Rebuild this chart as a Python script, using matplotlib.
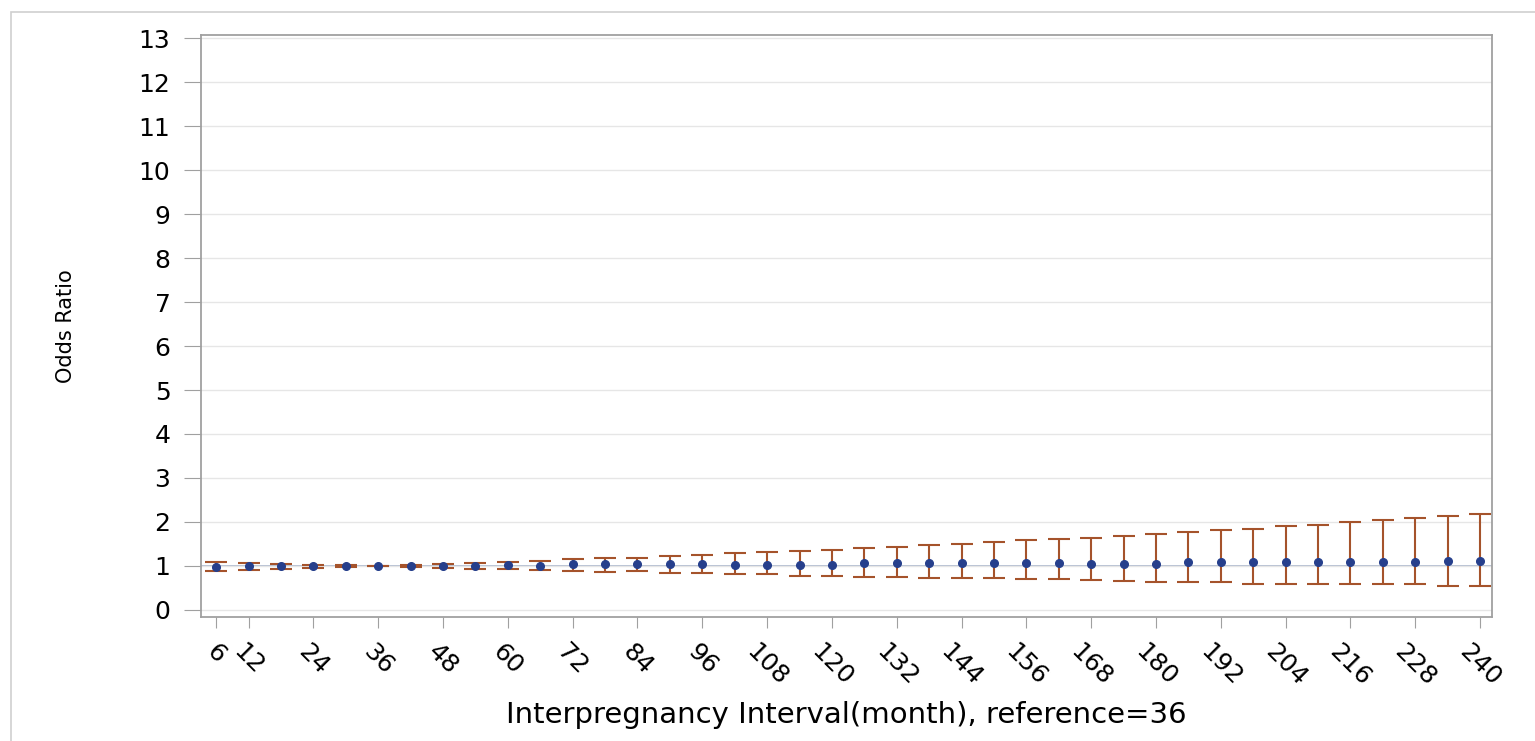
import matplotlib
matplotlib.use("Agg")
import matplotlib.pyplot as plt
from matplotlib.patches import Rectangle

# interval in months (reference = 36)
months = list(range(6, 241, 6))

odds_ratio = [0.97, 0.99, 1.00, 1.00, 1.00, 1.00, 1.00, 1.00, 1.00, 1.02,
              1.00, 1.04, 1.04, 1.04, 1.04, 1.04, 1.02, 1.03, 1.03, 1.03,
              1.06, 1.06, 1.06, 1.06, 1.06, 1.06, 1.06, 1.05, 1.05, 1.05,
              1.08, 1.08, 1.08, 1.08, 1.08, 1.08, 1.08, 1.08, 1.11, 1.11]

ci_upper = [1.08, 1.06, 1.05, 1.03, 1.02, 1.00, 1.03, 1.05, 1.06, 1.08,
            1.11, 1.16, 1.17, 1.19, 1.22, 1.25, 1.29, 1.31, 1.34, 1.37,
            1.40, 1.43, 1.47, 1.50, 1.55, 1.58, 1.61, 1.64, 1.69, 1.72,
            1.78, 1.82, 1.85, 1.90, 1.93, 1.99, 2.05, 2.09, 2.13, 2.19]

ci_lower = [0.88, 0.91, 0.93, 0.95, 0.97, 1.00, 0.97, 0.95, 0.94, 0.93,
            0.90, 0.89, 0.87, 0.88, 0.85, 0.84, 0.81, 0.81, 0.78, 0.78,
            0.76, 0.76, 0.73, 0.72, 0.72, 0.70, 0.70, 0.67, 0.66, 0.64,
            0.63, 0.63, 0.60, 0.60, 0.60, 0.58, 0.58, 0.58, 0.55, 0.55]

xticks = [6] + list(range(12, 241, 12))
yticks = list(range(0, 14))

plt.rcParams['font.family'] = 'DejaVu Sans'

fig = plt.figure(figsize=(15.35, 7.41), dpi=100)
ax = fig.add_axes([201/1535, 1 - 617/741, (1492 - 201)/1535, (617 - 35)/741])

# outer frame of the graph
fig.patches.append(Rectangle((11/1535, -0.1), 1.2, 1 - 12/741 + 0.1,
                             transform=fig.transFigure, fill=False,
                             edgecolor='#cfcfcf', linewidth=1.2))

ax.grid(axis='y', color='#e6e6e6', linewidth=1, zorder=0)
ax.axhline(1, color='#a3b2c8', linewidth=1.2, zorder=1)

yerr = [[o - l for o, l in zip(odds_ratio, ci_lower)],
        [u - o for o, u in zip(odds_ratio, ci_upper)]]
ax.errorbar(months, odds_ratio, yerr=yerr, fmt='none', ecolor='#a5532b',
            elinewidth=1.5, capsize=8, capthick=1.5, zorder=2)
ax.plot(months, odds_ratio, 'o', color='#263f8c', markersize=5.5, zorder=3)

ax.set_xlim(3.2, 242.2)
ax.set_ylim(-0.16, 13.07)
ax.set_xticks(xticks)
ax.set_yticks(yticks)
ax.set_xticklabels([str(t) for t in xticks], rotation=-45, ha='center',
                   fontsize=18)
ax.set_yticklabels([str(t) for t in yticks], fontsize=18)
ax.tick_params(axis='x', length=8, color='#a0a0a0', pad=8)
ax.tick_params(axis='y', length=12, color='#a0a0a0', pad=10)

for s in ax.spines.values():
    s.set_color('#a0a0a0')
    s.set_linewidth(1.3)

ax.set_xlabel('Interpregnancy Interval(month), reference=36', fontsize=21,
              labelpad=8)
ax.set_ylabel('Odds Ratio', fontsize=15, labelpad=45)

fig.savefig('out.png', dpi=100)
